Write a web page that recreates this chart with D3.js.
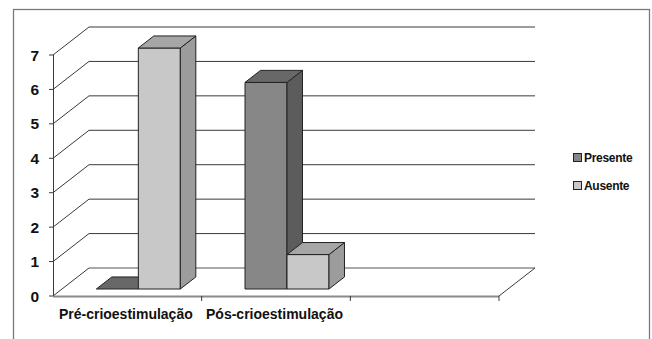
<!DOCTYPE html>
<html lang="pt">
<head>
<meta charset="UTF-8">
<title>Crioestimulação</title>
<script src="https://cdn.jsdelivr.net/npm/d3@7"></script>
<style>
    html, body { margin: 0; padding: 0; background: #fff; }
    svg text { font-weight: bold; fill: #111; }
</style>
</head>
<body>
<div id="graphDiv"></div>
<script>
    // data
    var categories = ["Pré-crioestimulação", "Pós-crioestimulação", ""];
    var seriesNames = ["Presente", "Ausente"];
    var presente = [0, 6, null];
    var ausente = [7, 1, null];
    var yTicks = [0, 1, 2, 3, 4, 5, 6, 7];

    var faceColors = {
        Presente: {front: "#878787", top: "#686868", side: "#5c5c5c"},
        Ausente: {front: "#c8c8c8", top: "#a6a6a6", side: "#9c9c9c"}
    };

    var FONT = "'Liberation Sans', Arial, Helvetica, sans-serif";
    var W = 652, H = 339;
    var depthX = 36, depthY = -28;       // whole floor depth
    var barF0 = 0.25, barF1 = 0.68;      // bar front / back plane as fraction of depth

    var svg = d3.select("#graphDiv").append("svg")
        .attr("width", W).attr("height", H);

    // outer frame
    svg.append("rect")
        .attr("x", 13.5).attr("y", 9.5)
        .attr("width", 636).attr("height", 360)
        .attr("fill", "none").attr("stroke", "#7a7a7a").attr("stroke-width", 1.3);

    var x = d3.scaleBand().domain(categories).range([53, 499]).paddingInner(0).paddingOuter(0);
    var y = d3.scaleLinear().domain([0, 7]).range([296, 55]);
    var xs = d3.scaleBand().domain(seriesNames).range([2, 86]);

    var grid = svg.append("g").attr("stroke", "#3a3a3a").attr("stroke-width", 1).attr("fill", "none");

    // back wall lines and left wall diagonals
    yTicks.forEach(function (v) {
        var yy = y(v);
        grid.append("line")
            .attr("x1", 53).attr("y1", yy)
            .attr("x2", 53 + depthX).attr("y2", yy + depthY);
        grid.append("line")
            .attr("x1", 53 + depthX).attr("y1", yy + depthY)
            .attr("x2", x.range()[1] + depthX).attr("y2", yy + depthY)
            .attr("stroke", v === 0 ? "#555" : "#3a3a3a");
    });

    // floor right diagonal and front edge
    grid.append("line")
        .attr("x1", x.range()[1]).attr("y1", y(0))
        .attr("x2", x.range()[1] + depthX).attr("y2", y(0) + depthY);
    svg.append("line")
        .attr("x1", 53).attr("y1", y(0) + 0.5)
        .attr("x2", x.range()[1]).attr("y2", y(0) + 0.5)
        .attr("stroke", "#8a8a8a").attr("stroke-width", 2);

    // y axis
    svg.append("line")
        .attr("x1", 53.5).attr("y1", y(7))
        .attr("x2", 53.5).attr("y2", y(0))
        .attr("stroke", "#3a3a3a");
    var yAxis = svg.append("g");
    yTicks.forEach(function (v) {
        yAxis.append("line")
            .attr("x1", 49).attr("x2", 53).attr("y1", y(v)).attr("y2", y(v))
            .attr("stroke", "#3a3a3a");
        yAxis.append("text")
            .attr("x", 39).attr("y", y(v) + 5.5)
            .attr("text-anchor", "end")
            .attr("font-family", FONT)
            .style("font-size", "15.5px")
            .text(v);
    });

    // x axis ticks and labels
    var xTickPos = categories.map(function (c) { return x(c) + x.bandwidth(); });
    xTickPos.forEach(function (px) {
        svg.append("line")
            .attr("x1", px).attr("x2", px).attr("y1", y(0)).attr("y2", y(0) + 5)
            .attr("stroke", "#3a3a3a");
    });
    categories.forEach(function (c) {
        if (!c) return;
        svg.append("text")
            .attr("x", x(c) + x.bandwidth() / 2 - 1.5)
            .attr("y", 319)
            .attr("text-anchor", "middle")
            .attr("font-family", FONT)
            .style("font-size", "14px")
            .text(c);
    });

    // bars
    var bars = [];
    categories.forEach(function (c, i) {
        [presente, ausente].forEach(function (arr, s) {
            if (arr[i] === null) return;
            bars.push({cat: c, name: seriesNames[s], value: arr[i]});
        });
    });

    var fx = barF0 * depthX, fy = barF0 * depthY;
    var bdx = (barF1 - barF0) * depthX, bdy = (barF1 - barF0) * depthY;
    var bw = xs.bandwidth();

    function pts(a) { return a.map(function (p) { return p.join(","); }).join(" "); }

    var barG = svg.append("g").attr("stroke", "#222").attr("stroke-width", 1).attr("stroke-linejoin", "round");
    bars.forEach(function (d) {
        var x0 = x(d.cat) + fx + (x.bandwidth() - 84) / 2 + xs(d.name);
        var x1 = x0 + bw;
        var yb = y(0) + fy;
        var yt = y(d.value) + fy;
        var col = faceColors[d.name];
        if (d.value > 0) {
            barG.append("polygon").attr("fill", col.front)
                .attr("points", pts([[x0, yt], [x1, yt], [x1, yb], [x0, yb]]));
            barG.append("polygon").attr("fill", col.side)
                .attr("points", pts([[x1, yt], [x1 + bdx, yt + bdy], [x1 + bdx, yb + bdy], [x1, yb]]));
        }
        barG.append("polygon").attr("fill", col.top)
            .attr("points", pts([[x0, yt], [x0 + bdx, yt + bdy], [x1 + bdx, yt + bdy], [x1, yt]]));
    });

    // legend
    var leg = svg.append("g").attr("transform", "translate(573,153)");
    seriesNames.forEach(function (n, i) {
        var g = leg.append("g").attr("transform", "translate(0," + (i * 28) + ")");
        g.append("rect").attr("x", 0.5).attr("y", 0.5).attr("width", 8).attr("height", 8)
            .attr("fill", faceColors[n].front).attr("stroke", "#222");
        g.append("text").attr("x", 11).attr("y", 9)
            .attr("font-family", FONT)
            .style("font-size", "12px")
            .style("letter-spacing", "-0.3px")
            .text(n);
    });
</script>
</body>
</html>
